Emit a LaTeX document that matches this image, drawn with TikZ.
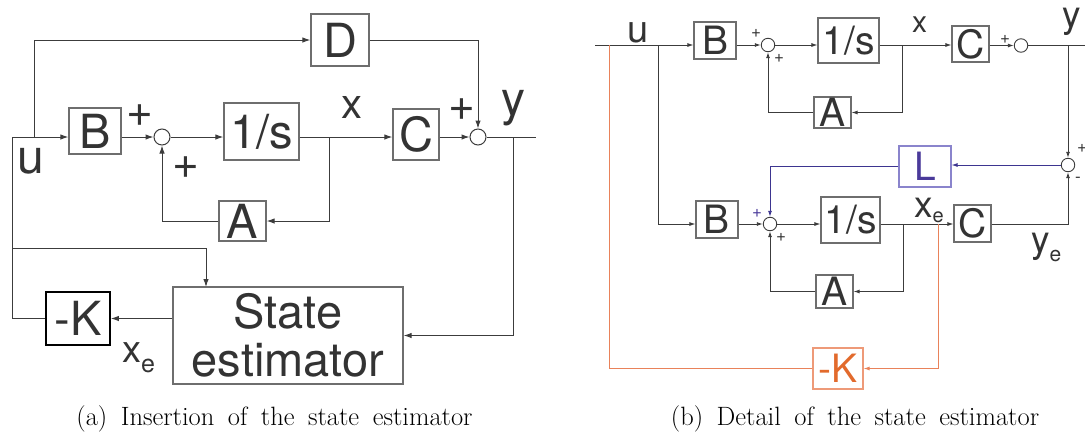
\documentclass[tikz,border=0pt]{standalone}
\usepackage{fontspec}
\newfontfamily\hv{TeX Gyre Heros}
\usetikzlibrary{arrows.meta,calc}
\definecolor{ln}{HTML}{3C3C3C}
\definecolor{bx}{HTML}{6E6E6E}
\definecolor{txt}{HTML}{333333}
\definecolor{orl}{HTML}{E9825A}
\definecolor{ort}{HTML}{E26A2C}
\definecolor{orb}{HTML}{EE9A78}
\definecolor{bll}{HTML}{3D3590}
\definecolor{blb}{HTML}{8A84CC}
\definecolor{blt}{HTML}{4A3A9A}
\newcommand\capfnt{\fontsize{26.5}{26.5}\selectfont\spaceskip 13.5pt plus 2pt minus 2pt\relax}
\tikzset{
  boxa/.style={draw=bx, line width=1.3pt, inner sep=0pt, text=txt, font=\hv\fontsize{47}{48}\selectfont},
  boxb/.style={draw=bx, line width=1.1pt, inner sep=0pt, text=txt, font=\hv\fontsize{39}{39}\selectfont},
  suma/.style={draw=ln, circle, line width=1pt, inner sep=0pt, minimum size=16pt},
  sumb/.style={draw=ln, circle, line width=0.9pt, inner sep=0pt, minimum size=13.5pt},
  wa/.style={draw=ln, line width=1pt},
  wb/.style={draw=ln, line width=0.9pt},
  arra/.style={-{Latex[length=8pt,width=5.5pt]}},
  arrb/.style={-{Latex[length=6pt,width=4pt]}},
  lbl/.style={inner sep=0pt, text=txt, anchor=base west},
  plusa/.style={inner sep=0pt, text=txt, font=\hv\fontsize{46}{46}\selectfont},
  plusb/.style={inner sep=0pt, text=txt, font=\hv\fontsize{17}{17}\selectfont},
  captxt/.style={inner sep=0pt, anchor=base, font=\capfnt}
}
\begin{document}
\begin{tikzpicture}[x=1pt,y=-1pt]
\useasboundingbox (0,0) rectangle (1085,432);
% ---------------- panel (a)
\node[boxa, minimum width=52pt, minimum height=46pt] (Ba) at (95,131) {B};
\node[suma] (Sa1) at (162,137) {};
\node[boxa, minimum width=75pt, minimum height=57pt] (Ia) at (261.5,131.5) {1/s};
\node[boxa, minimum width=46pt, minimum height=51pt] (Ca) at (416,134.5) {C};
\node[suma] (Sa2) at (478,137) {};
\node[boxa, minimum width=58pt, minimum height=52pt] (Da) at (340,40) {D};
\node[boxa, minimum width=47pt, minimum height=40pt] (Aa) at (242.5,221) {A};
\node[boxa, draw=black, line width=1.8pt, minimum width=64pt, minimum height=53pt] (Ka) at (78,318.5) {-K};
\node[boxa, minimum width=230pt, minimum height=97pt, align=center] (Ea) at (288,335.5) {State\\estimator};
\coordinate (ua) at (12,137);
\coordinate (ta) at (34,137);
\coordinate (xa) at (329,137);
\coordinate (yba) at (513,137);
\coordinate (outa) at (536,137);
\coordinate (fa) at (12,248);
\coordinate (ein) at (206,287);
\draw[wa,arra] (Ka.west) -| (ua) -- (Ba.west |- ua);
\draw[wa,arra] (ta) |- (Da.west);
\draw[wa,arra] (Ba.east |- ua) -- (Sa1.west);
\draw[wa,arra] (Sa1.east) -- (Ia.west |- Sa1);
\draw[wa,arra] (Ia.east |- Sa1) -- (Ca.west |- Sa1);
\draw[wa,arra] (Ca.east |- Sa1) -- (Sa2.west);
\draw[wa,arra] (Da.east) -| (Sa2.north);
\draw[wa] (Sa2.east) -- (outa);
\draw[wa,arra] (xa) |- (Aa.east);
\draw[wa,arra] (Aa.west) -| (Sa1.south);
\draw[wa,arra] (yba) |- (Ea.east);
\draw[wa,arra] (fa) -| (ein);
\draw[wa,arra] (Ea.west |- Ka.east) -- (Ka.east);
\node[plusa] (pa1) at (140,116) {+};
\node[plusa] (pa2) at (186,168) {+};
\node[plusa] (pa3) at (462,110) {+};
\node[lbl, font=\hv\fontsize{42}{42}\selectfont] (lxa) at (341,118) {x};
\node[lbl, font=\hv\fontsize{48}{48}\selectfont] (lya) at (501,115) {y};
\node[lbl, font=\hv\fontsize{48}{48}\selectfont] (lua) at (17,173) {u};
\node[lbl, font=\hv\fontsize{38}{38}\selectfont] (lxea) at (122,362) {x\raisebox{-10pt}{\fontsize{25}{25}\selectfont e}};
\node[captxt] (capa) at (274.5,425) {(a) Insertion of the state estimator};
% ---------------- panel (b)
\node[boxb, minimum width=42pt, minimum height=37pt] (Bb1) at (715,40.5) {B};
\node[sumb] (Sb1) at (768,45) {};
\node[boxb, minimum width=61pt, minimum height=45pt] (Ib1) at (848.5,40.5) {1/s};
\node[boxb, minimum width=37pt, minimum height=36pt] (Cb1) at (970.5,44) {C};
\node[sumb] (Sb2) at (1021,45.5) {};
\node[boxb, minimum width=37pt, minimum height=31pt] (Ab1) at (832.5,112.5) {A};
\node[sumb] (Sb3) at (1068,165) {};
\node[boxb, draw=blb, text=blt, minimum width=52pt, minimum height=41pt] (Lb) at (925,166.5) {L};
\node[boxb, minimum width=42pt, minimum height=37pt] (Bb2) at (717,219.5) {B};
\node[sumb] (Sb4) at (770,224) {};
\node[boxb, minimum width=59pt, minimum height=46pt] (Ib2) at (850.5,220) {1/s};
\node[boxb, minimum width=37pt, minimum height=37pt] (Cb2) at (972.5,223.5) {C};
\node[boxb, minimum width=37pt, minimum height=33pt] (Ab2) at (834.5,291.5) {A};
\node[boxb, draw=orb, text=ort, minimum width=50pt, minimum height=41pt] (Kb) at (838,368.5) {-K};
\coordinate (inb) at (595,45);
\coordinate (ob) at (609,45);
\coordinate (gb) at (658,45);
\coordinate (xb1) at (902,45);
\coordinate (outb) at (1085,45.5);
\coordinate (yb1) at (1068,45.5);
\coordinate (xb2) at (903,224);
\coordinate (xo) at (938,224);
\draw[wb,arrb] (inb) -- (Bb1.west |- inb);
\draw[wb,arrb] (gb) |- (Bb2.west |- Sb4);
\draw[wb,arrb] (Bb1.east |- Sb1) -- (Sb1.west);
\draw[wb,arrb] (Sb1.east) -- (Ib1.west |- Sb1);
\draw[wb,arrb] (Ib1.east |- Sb1) -- (Cb1.west |- Sb1);
\draw[wb,arrb] (xb1) |- (Ab1.east);
\draw[wb,arrb] (Ab1.west) -| (Sb1.south);
\draw[wb,arrb] (Cb1.east |- Sb2) -- (Sb2.west);
\draw[wb] (Sb2.east) -- (outb);
\draw[wb,arrb] (yb1) -- (Sb3.north);
\draw[wb,arrb,draw=bll] (Sb3.west) -- (Lb.east |- Sb3);
\draw[wb,arrb,draw=bll] (Lb.west) -| (Sb4.north);
\draw[wb,arrb] (Bb2.east |- Sb4) -- (Sb4.west);
\draw[wb,arrb] (Sb4.east) -- (Ib2.west |- Sb4);
\draw[wb,arrb] (Ib2.east |- Sb4) -- (Cb2.west |- Sb4);
\draw[wb,arrb] (xb2) |- (Ab2.east);
\draw[wb,arrb] (Ab2.west) -| (Sb4.south);
\draw[wb,arrb] (Cb2.east |- Sb4) -| (Sb3.south);
\draw[wb,arrb,draw=orl] (xo) |- (Kb.east);
\draw[wb,draw=orl] (Kb.west) -| (ob);
\node[lbl, font=\hv\fontsize{38}{38}\selectfont] (lub) at (627,42) {u};
\node[lbl, font=\hv\fontsize{30}{30}\selectfont] (lxb) at (912,32) {x};
\node[lbl, font=\hv\fontsize{37}{37}\selectfont] (lyb) at (1062,27) {y};
\node[lbl, font=\hv\fontsize{37}{37}\selectfont] (lxeb) at (914,217) {x\raisebox{-5pt}{\fontsize{20}{20}\selectfont e}};
\node[lbl, font=\hv\fontsize{37}{37}\selectfont] (lyeb) at (1031,252) {y\raisebox{-9pt}{\fontsize{21}{21}\selectfont e}};
\node[plusb] (pb1) at (756,33) {+};
\node[plusb] (pb2) at (779,58) {+};
\node[plusb] (pb3) at (1005,39) {+};
\node[plusb] (pb4) at (1082,148) {+};
\node[plusb] (pb5) at (1078,180) {-};
\node[plusb, text=blt] (pb6) at (757,213) {+};
\node[plusb] (pb7) at (781,237) {+};
\node[captxt] (capb) at (855,425) {(b) Detail of the state estimator};
\end{tikzpicture}
\end{document}
